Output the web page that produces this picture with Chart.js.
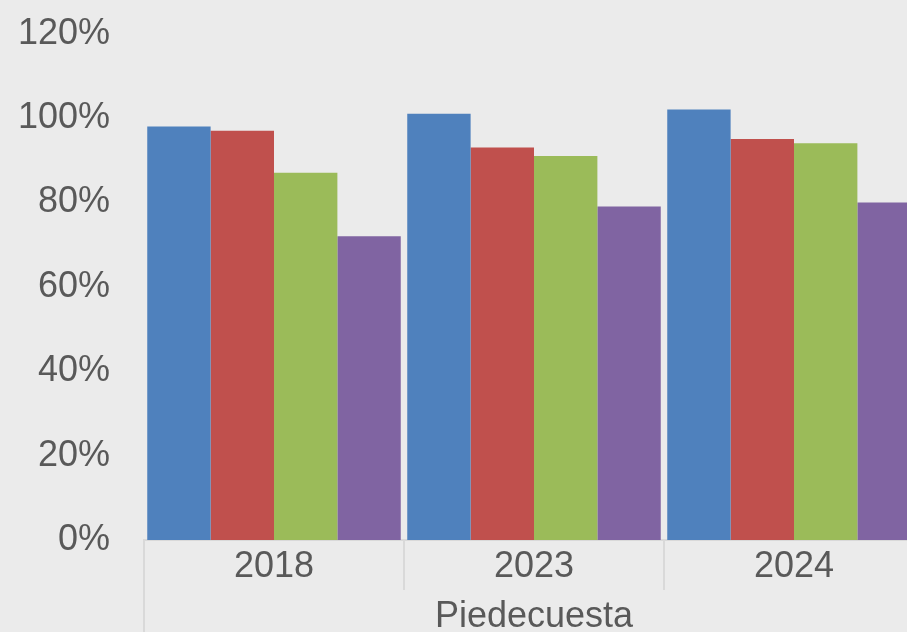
<!DOCTYPE html>
<html>
<head>
<meta charset="utf-8">
<script src="https://cdn.jsdelivr.net/npm/chart.js@4"></script>
<style>
  html, body { margin: 0; padding: 0; overflow: hidden; height: 632px; background: #ebebeb; }
  #wrap { position: relative; top: -22px; width: 924px; height: 654px; }
</style>
</head>
<body>
<div id="wrap"><canvas id="myChart"></canvas></div>
<script>
const labels = ['2018', '2023', '2024'];
const groupLabel = 'Piedecuesta';
const serie1 = [98, 101, 102];
const serie2 = [97, 93, 95];
const serie3 = [87, 91, 94];
const serie4 = [72, 79, 80];
const yTicks = [0, 20, 40, 60, 80, 100, 120];

const textColor = '#595959';
const lineColor = '#d9d9d9';
const font = { family: '"Liberation Sans", Arial, sans-serif', size: 36 };

// separators between categories and the outer group label underneath
const groupAxis = {
  id: 'groupAxis',
  afterDraw(chart) {
    const { ctx, chartArea, scales: { x } } = chart;
    const step = (x.right - x.left) / labels.length;
    ctx.save();
    ctx.strokeStyle = lineColor;
    ctx.lineWidth = 2;
    ctx.beginPath();
    for (let i = 1; i < labels.length; i++) {
      const px = Math.round(x.left + step * i);
      ctx.moveTo(px, chartArea.bottom);
      ctx.lineTo(px, chartArea.bottom + 50);
    }
    ctx.moveTo(x.left, chartArea.bottom);
    ctx.lineTo(x.left, chart.height);
    ctx.stroke();
    ctx.fillStyle = textColor;
    ctx.font = font.size + 'px ' + font.family;
    ctx.textAlign = 'center';
    ctx.textBaseline = 'middle';
    ctx.fillText(groupLabel, (x.left + x.right) / 2, chartArea.bottom + 77);
    ctx.restore();
  }
};

const ctx = document.getElementById('myChart');

new Chart(ctx, {
  type: 'bar',
  data: {
    labels: labels,
    datasets: [
      { label: 'Serie 1', data: serie1, backgroundColor: '#4f81bd' },
      { label: 'Serie 2', data: serie2, backgroundColor: '#c0504d' },
      { label: 'Serie 3', data: serie3, backgroundColor: '#9bbb59' },
      { label: 'Serie 4', data: serie4, backgroundColor: '#8064a2' }
    ]
  },
  options: {
    responsive: true,
    maintainAspectRatio: false,
    animation: false,
    layout: { padding: { top: 13, left: 0, right: 0, bottom: 0 } },
    datasets: {
      bar: { categoryPercentage: 0.975, barPercentage: 1 }
    },
    plugins: {
      legend: { display: false },
      tooltip: { enabled: false }
    },
    scales: {
      x: {
        grid: { display: false },
        border: { display: true, color: lineColor, width: 2 },
        ticks: { color: textColor, font: font, padding: -3, maxRotation: 0 },
        afterFit(scale) { scale.height = 92; }
      },
      y: {
        min: 0,
        max: 120,
        afterBuildTicks(scale) { scale.ticks = yTicks.map(v => ({ value: v })); },
        grid: { display: false, drawTicks: false },
        border: { display: false },
        ticks: {
          color: textColor,
          font: font,
          padding: 34,
          callback: v => v + '%'
        },
        afterFit(scale) { scale.width = 144; }
      }
    }
  },
  plugins: [groupAxis]
});
</script>
</body>
</html>
